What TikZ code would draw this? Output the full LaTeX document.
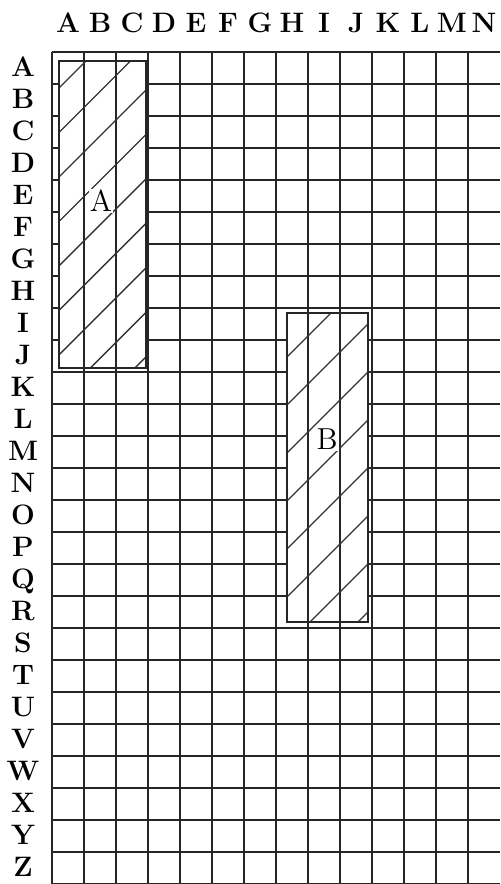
\documentclass[tikz,border=0pt]{standalone}
\usepackage{tikz}
\usetikzlibrary{positioning}

\begin{document}
\begin{tikzpicture}[
    x=0.5cm, y=0.5cm,
    gridline/.style={line width=0.9pt, draw=black!85},
    regionfill/.style={fill=white},
    regionedge/.style={line width=0.6pt, draw=black!85},
    hatchline/.style={line width=0.6pt, draw=black!80},
    axislabel/.style={font=\fontsize{12.5}{13}\selectfont\bfseries, inner sep=0pt, text height=1.75ex, text depth=0pt, anchor=center},
    regionlabel/.style={font=\fontsize{13.5}{14}\selectfont, fill=white, inner sep=0.5pt}
]
\useasboundingbox (-1.625,-26) rectangle (14,1.625);

% Region corners
\coordinate (regA-sw) at (0.22,-9.88);
\coordinate (regA-ne) at (2.94,-0.28);
\coordinate (regB-sw) at (7.34,-17.81);
\coordinate (regB-ne) at (9.88,-8.16);

% Grid rows
\foreach \r in {0,...,26}
    \draw[gridline] (0,-\r) -- (14,-\r);

% Regions hide the rows
\fill[regionfill] (regA-sw) rectangle (regA-ne);
\fill[regionfill] (regB-sw) rectangle (regB-ne);

% Grid columns
\foreach \c in {0,...,13}
    \draw[gridline] (\c,0) -- (\c,-26);

% Hatching
\begin{scope}
    \clip (regA-sw) rectangle (regA-ne);
    \foreach \k in {0,...,8}
        \draw[hatchline] ({1.344+1.39*\k-20},-20) -- ({1.344+1.39*\k+2},2);
\end{scope}
\begin{scope}
    \clip (regB-sw) rectangle (regB-ne);
    \foreach \k in {0,...,7}
        \draw[hatchline] ({16.875+1.5*\k-20},-20) -- ({16.875+1.5*\k+2},2);
\end{scope}

\draw[regionedge] (regA-sw) rectangle (regA-ne);
\draw[regionedge] (regB-sw) rectangle (regB-ne);

% Axis labels
\foreach \c [count=\i] in {A,...,N}
    \node[axislabel] (col-\c) at (\i-0.5,0.875) {\c};
\foreach \r [count=\i] in {A,...,Z}
    \node[axislabel] (row-\r) at (-0.906,-\i+0.5) {\r};

% Region labels
\node[regionlabel] (label-A) at (1.53,-4.66) {A};
\node[regionlabel] (label-B) at (8.6,-12.1) {B};

\end{tikzpicture}
\end{document}
